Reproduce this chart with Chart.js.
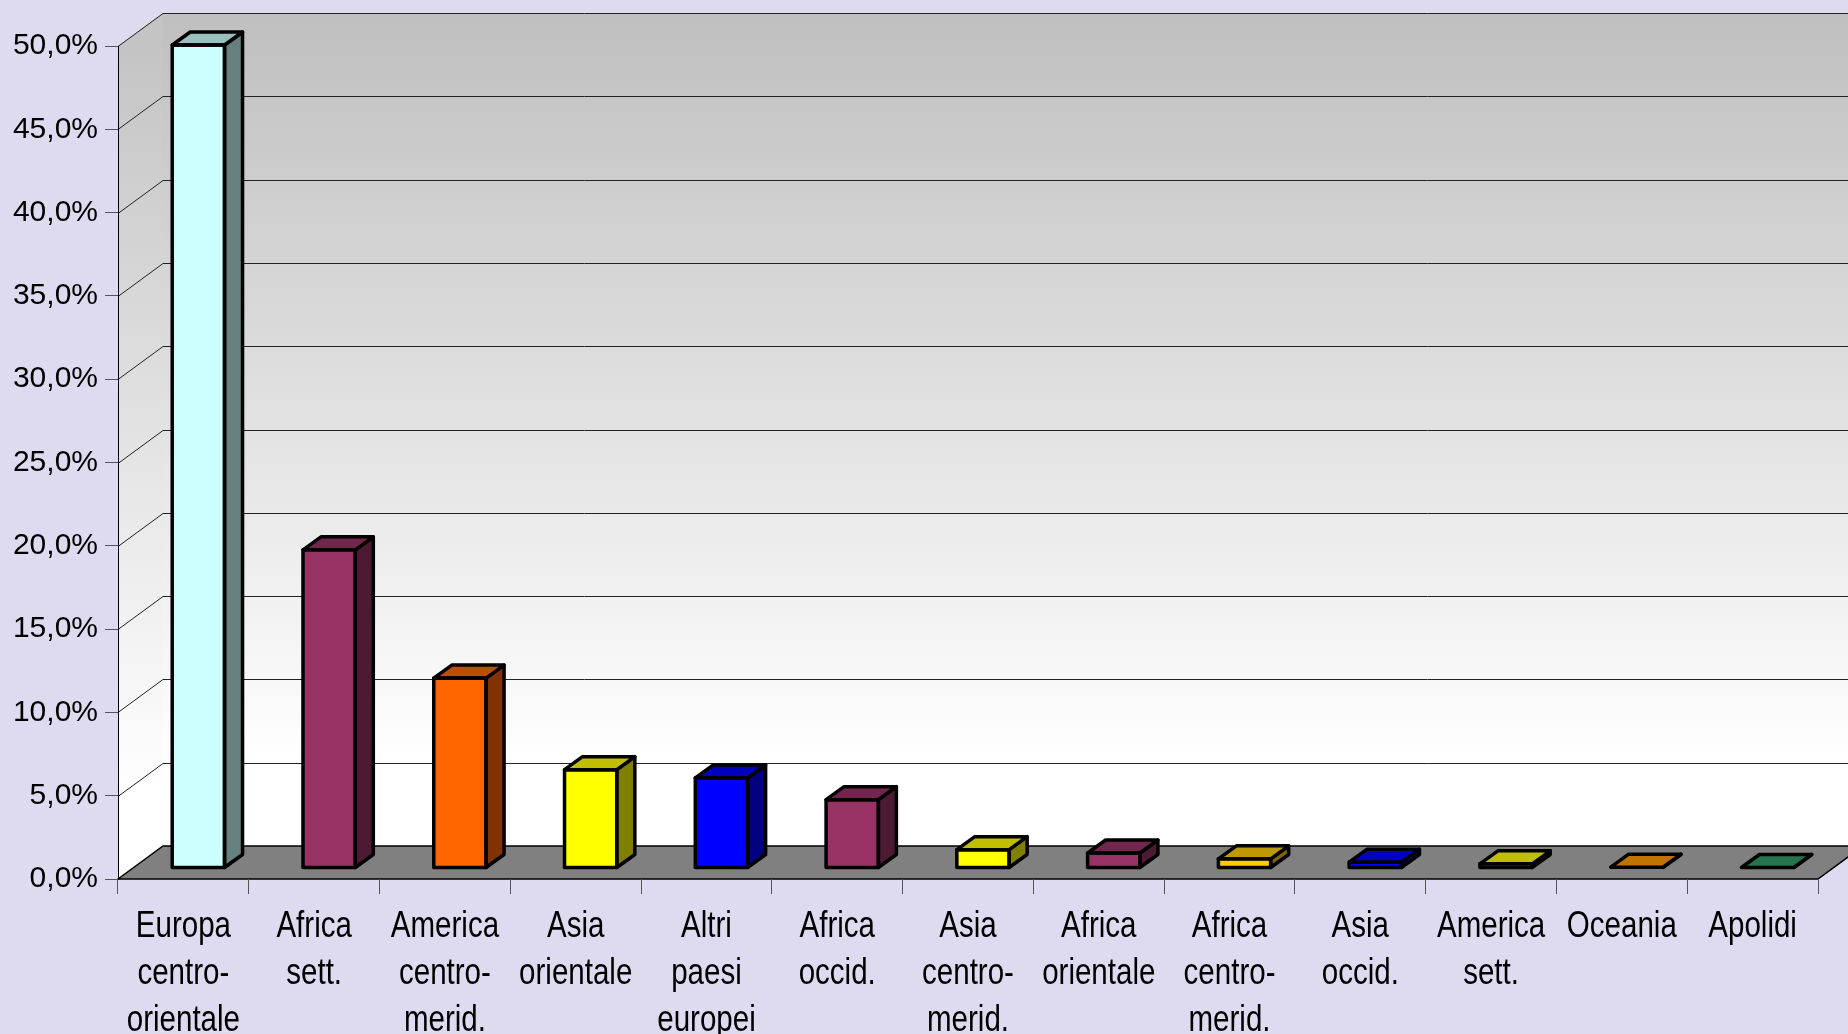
<!DOCTYPE html>
<html>

<head>
    <title>Cittadini stranieri per area di provenienza</title>
    <script src="https://cdn.jsdelivr.net/npm/chart.js"></script>
    <style>
        body { margin: 0; background: #dedaef; }
    </style>
</head>

<body>

    <canvas id="myChart" width="1848" height="1034"></canvas>

    <script>
        // data (percent)
        var categories = [
            ['Europa', 'centro-', 'orientale'], ['Africa', 'sett.'], ['America', 'centro-', 'merid.'],
            ['Asia', 'orientale'], ['Altri', 'paesi', 'europei'], ['Africa', 'occid.'],
            ['Asia', 'centro-', 'merid.'], ['Africa', 'orientale'], ['Africa', 'centro-', 'merid.'],
            ['Asia', 'occid.'], ['America', 'sett.'], ['Oceania'], ['Apolidi']
        ];
        var shares = [49.4, 19.1, 11.4, 5.9, 5.4, 4.1, 1.1, 0.9, 0.55, 0.35, 0.25, 0.05, 0.03];
        var barColors = ['#CCFFFF', '#993366', '#FF6600', '#FFFF00', '#0000FF', '#993366', '#FFFF00',
            '#993366', '#FFCC00', '#0000FF', '#FFFF00', '#FF9900', '#339966'];
        var yTicks = [0, 5, 10, 15, 20, 25, 30, 35, 40, 45, 50];

        // 3D look: whole depth of floor, bar position inside it
        var DEPTH_X = 45, DEPTH_Y = -33;
        var FRONT_X = 15, FRONT_Y = -11;   // bar front face shift
        var BAR_X = 18, BAR_Y = -13;       // bar depth

        function shade(hex, f) {
            var n = parseInt(hex.slice(1), 16);
            var r = Math.round(((n >> 16) & 255) * f);
            var g = Math.round(((n >> 8) & 255) * f);
            var b = Math.round((n & 255) * f);
            return 'rgb(' + r + ',' + g + ',' + b + ')';
        }

        function poly(ctx, pts, fill, stroke, lw) {
            ctx.beginPath();
            ctx.moveTo(pts[0][0], pts[0][1]);
            for (var i = 1; i < pts.length; i++) ctx.lineTo(pts[i][0], pts[i][1]);
            ctx.closePath();
            if (fill) { ctx.fillStyle = fill; ctx.fill(); }
            if (stroke) { ctx.strokeStyle = stroke; ctx.lineWidth = lw; ctx.stroke(); }
        }

        var wallsPlugin = {
            id: 'walls',
            beforeDraw(chart) {
                var ctx = chart.ctx;
                var a = chart.chartArea;
                var y = chart.scales.y;
                var L = a.left, R = a.right, T = a.top, B = a.bottom;

                ctx.save();
                ctx.fillStyle = '#dedaef';
                ctx.fillRect(0, 0, chart.width, chart.height);

                var grad = ctx.createLinearGradient(0, T + DEPTH_Y, 0, B + DEPTH_Y);
                grad.addColorStop(0, '#bfbfbf');
                grad.addColorStop(0.9, '#ffffff');
                grad.addColorStop(1, '#ffffff');

                // back wall
                poly(ctx, [[L + DEPTH_X, T + DEPTH_Y], [R + DEPTH_X, T + DEPTH_Y],
                    [R + DEPTH_X, B + DEPTH_Y], [L + DEPTH_X, B + DEPTH_Y]], grad);

                // left side wall
                var grad2 = ctx.createLinearGradient(0, T, 0, B);
                grad2.addColorStop(0, '#c4c4c4');
                grad2.addColorStop(0.9, '#ffffff');
                grad2.addColorStop(1, '#ffffff');
                poly(ctx, [[L, T], [L + DEPTH_X, T + DEPTH_Y], [L + DEPTH_X, B + DEPTH_Y], [L, B]], grad2);

                // gridlines on the walls
                ctx.lineWidth = 1;
                ctx.strokeStyle = '#222';
                yTicks.forEach(function (v) {
                    var py = Math.round(y.getPixelForValue(v)) + 0.5;
                    ctx.beginPath();
                    ctx.moveTo(L, py);
                    ctx.lineTo(L + DEPTH_X, py + DEPTH_Y);
                    ctx.lineTo(R + DEPTH_X, py + DEPTH_Y);
                    ctx.stroke();
                });

                // floor
                poly(ctx, [[L, B], [L + DEPTH_X, B + DEPTH_Y], [R + DEPTH_X, B + DEPTH_Y], [R, B]],
                    '#808080', '#000000', 1.5);
                ctx.restore();
            },
            beforeDatasetsDraw(chart) {
                chart.ctx.save();
                chart.ctx.translate(FRONT_X, FRONT_Y);
            },
            afterDatasetsDraw(chart) {
                var ctx = chart.ctx;
                ctx.restore();
                var meta = chart.getDatasetMeta(0);
                ctx.save();
                ctx.lineJoin = 'round';
                meta.data.forEach(function (bar, i) {
                    var p = bar.getProps(['x', 'y', 'base', 'width'], true);
                    var xl = p.x - p.width / 2 + FRONT_X, xr = p.x + p.width / 2 + FRONT_X;
                    var yt = p.y + FRONT_Y, yb = p.base + FRONT_Y;
                    var c = barColors[i];
                    // side
                    poly(ctx, [[xr, yt], [xr + BAR_X, yt + BAR_Y], [xr + BAR_X, yb + BAR_Y], [xr, yb]],
                        shade(c, 0.5), '#000', 3.5);
                    // top
                    poly(ctx, [[xl, yt], [xr, yt], [xr + BAR_X, yt + BAR_Y], [xl + BAR_X, yt + BAR_Y]],
                        shade(c, 0.75), '#000', 3.5);
                    // front outline
                    if (yb - yt > 1) poly(ctx, [[xl, yt], [xr, yt], [xr, yb], [xl, yb]], null, '#000', 3.5);
                });
                ctx.restore();
            },
            afterDraw(chart) {
                // category labels in a narrow face (horizontally squeezed Liberation Sans)
                var ctx = chart.ctx;
                var x = chart.scales.x;
                var top = chart.chartArea.bottom + 48;
                ctx.save();
                ctx.fillStyle = '#000';
                ctx.font = "36px 'Liberation Sans', Arial, sans-serif";
                ctx.textAlign = 'center';
                ctx.textBaseline = 'middle';
                categories.forEach(function (lines, i) {
                    var cx = x.getPixelForValue(i);
                    lines.forEach(function (t, k) {
                        ctx.save();
                        ctx.translate(cx, top + k * 47);
                        ctx.scale(0.82, 1);
                        ctx.fillText(t, 0, 0);
                        ctx.restore();
                    });
                });
                ctx.restore();
            }
        };

        var ctx = document.getElementById('myChart').getContext('2d');
        var myChart = new Chart(ctx, {
            type: 'bar',
            data: {
                labels: categories,
                datasets: [{
                    data: shares,
                    backgroundColor: barColors,
                    borderWidth: 0,
                    barPercentage: 0.8,
                    categoryPercentage: 0.5
                }]
            },
            options: {
                responsive: false,
                animation: false,
                events: [],
                layout: { padding: { top: 46, right: 30, left: 0, bottom: 0 } },
                plugins: { legend: { display: false }, tooltip: { enabled: false } },
                scales: {
                    x: {
                        afterFit(s) { s.height = 155; },
                        grid: { offset: true, drawOnChartArea: false, tickLength: 15, color: '#555' },
                        border: { display: false },
                        ticks: { display: false, autoSkip: false, maxRotation: 0 }
                    },
                    y: {
                        min: 0, max: 50,
                        afterFit(s) { s.width = 118; },
                        afterBuildTicks(s) { s.ticks = yTicks.map(function (v) { return { value: v }; }); },
                        grid: { drawOnChartArea: false, tickLength: 13, color: '#555' },
                        border: { display: true, color: '#000', width: 1 },
                        ticks: {
                            padding: 7, color: '#000',
                            font: { family: "'Liberation Sans', Arial, sans-serif", size: 30 },
                            callback: function (v) { return v.toFixed(1).replace('.', ',') + '%'; }
                        }
                    }
                }
            },
            plugins: [wallsPlugin]
        });
    </script>

</body>

</html>
